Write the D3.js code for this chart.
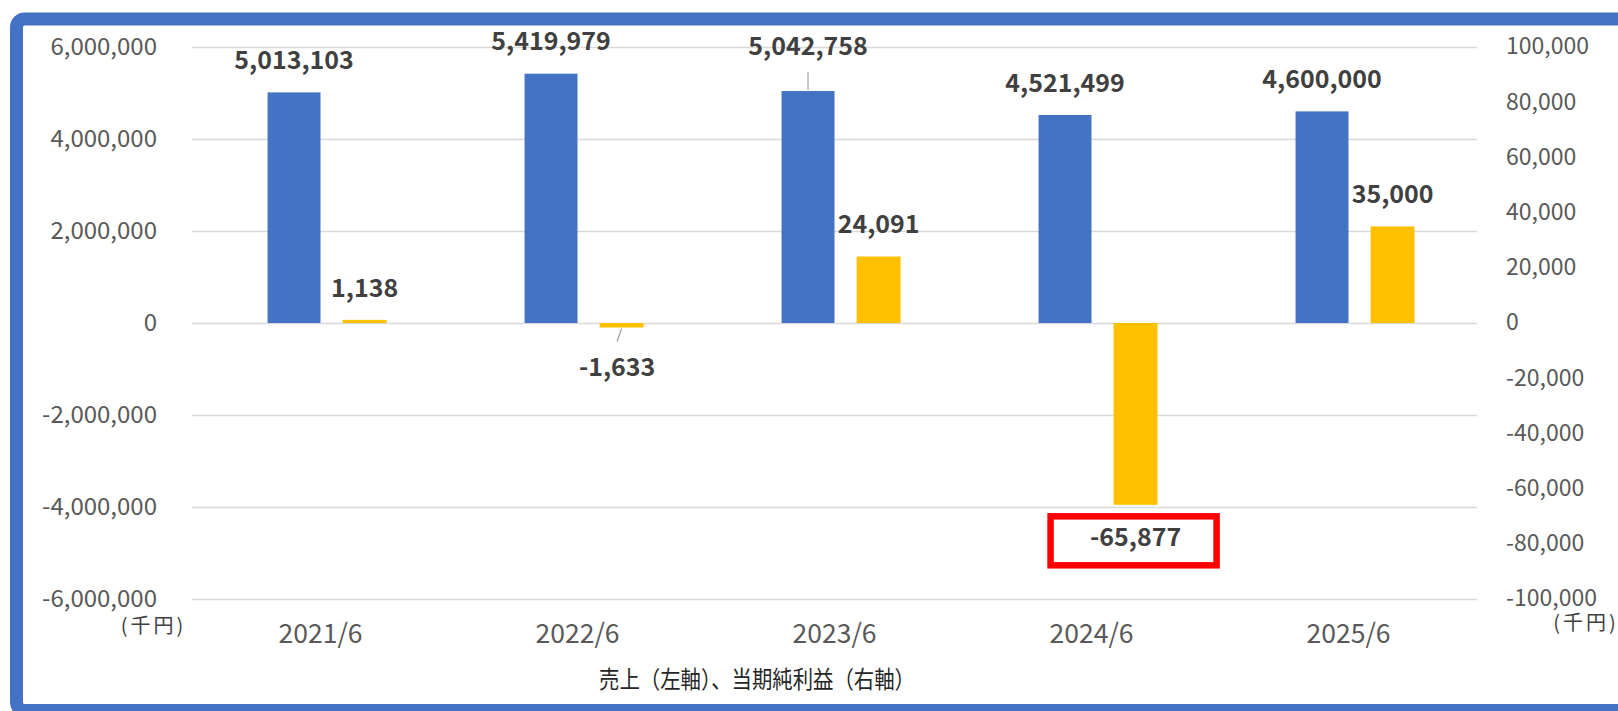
<!DOCTYPE html>
<html>
<head>
<meta charset="utf-8">
<script src="https://cdn.jsdelivr.net/npm/d3@7"></script>
<style>
  body { margin: 0; background: #fff; }
  text { font-family: "Noto Sans CJK JP", "Noto Sans", sans-serif; }
</style>
</head>
<body>
<div id="chart"></div>
<script>
const categories = ['2021/6', '2022/6', '2023/6', '2024/6', '2025/6']
const sales = [5013103, 5419979, 5042758, 4521499, 4600000]
const netIncome = [1138, -1633, 24091, -65877, 35000]
const leftTicks = [6000000, 4000000, 2000000, 0, -2000000, -4000000, -6000000]
const rightTicks = [100000, 80000, 60000, 40000, 20000, 0, -20000, -40000, -60000, -80000, -100000]
const unitLabel = '(千円)'
const titleText = '売上（左軸）、当期純利益（右軸）'

const width = 1618
const height = 711
const plot = {left: 192, right: 1477, top: 47, bottom: 599}

// hand nudges for the labels that were dragged off the bars
const labelNudge = {
    sales: {2: {dy: -13, leader: true}},
    income: {1: {dx: -4.5, dy: 8, leader: true}, 3: {box: true}}
}

const locale = d3.formatLocale({decimal: '.', thousands: ',', grouping: [3], currency: ['', ''], minus: '-'})
const fmt = locale.format(',')

const svg = d3.select('#chart')
    .append('svg')
    .attr('width', width)
    .attr('height', height)

const x = d3.scaleBand()
    .domain(categories)
    .range([plot.left, plot.right])
    .padding(0)

const yLeft = d3.scaleLinear()
    .domain([-6000000, 6000000])
    .range([plot.bottom, plot.top])

const yRight = d3.scaleLinear()
    .domain([-100000, 100000])
    .range([plot.bottom, plot.top])

const bw = x.bandwidth()
const salesW = bw * 0.206
const incomeW = bw * 0.171
const gap = bw * 0.086
const mid = c => x(c) + bw / 2

// gridlines
svg.append('g')
    .attr('transform', `translate(${plot.left},0)`)
    .call(d3.axisLeft(yLeft).tickValues(leftTicks).tickSize(-(plot.right - plot.left)).tickFormat(''))
    .call(g => g.select('.domain').remove())
    .call(g => g.selectAll('line').attr('stroke', '#d9d9d9').attr('stroke-width', 1.5))

// left axis
svg.append('g')
    .attr('transform', 'translate(157,0)')
    .call(d3.axisLeft(yLeft).tickValues(leftTicks).tickSize(0).tickPadding(0).tickFormat(fmt))
    .call(g => g.select('.domain').remove())
    .call(g => g.selectAll('text')
        .attr('fill', '#595959')
        .style('font-size', '24px')
        .attr('dy', '0.3em'))

// right axis
svg.append('g')
    .attr('transform', 'translate(1506,0)')
    .call(d3.axisRight(yRight).tickValues(rightTicks).tickSize(0).tickPadding(0).tickFormat(fmt))
    .call(g => g.select('.domain').remove())
    .call(g => g.selectAll('text')
        .attr('fill', '#595959')
        .style('font-size', '23px')
        .attr('dy', '0.3em'))

// category axis
svg.append('g')
    .attr('transform', `translate(0,${plot.bottom})`)
    .call(d3.axisBottom(x).tickSize(0).tickPadding(0))
    .call(g => g.select('.domain').remove())
    .call(g => g.selectAll('text')
        .attr('fill', '#595959')
        .attr('y', 35)
        .attr('dy', '0.35em')
        .attr('textLength', 84)
        .attr('lengthAdjust', 'spacingAndGlyphs')
        .style('font-size', '27px'))

// bars
svg.selectAll('rect.sales')
    .data(sales)
    .enter()
    .append('rect')
    .attr('class', 'sales')
    .attr('x', (d, i) => mid(categories[i]) - salesW)
    .attr('y', d => yLeft(Math.max(d, 0)))
    .attr('width', salesW)
    .attr('height', d => Math.abs(yLeft(d) - yLeft(0)))
    .attr('fill', '#4472c4')

svg.selectAll('rect.income')
    .data(netIncome)
    .enter()
    .append('rect')
    .attr('class', 'income')
    .attr('x', (d, i) => mid(categories[i]) + gap)
    .attr('y', d => yRight(Math.max(d, 0)))
    .attr('width', incomeW)
    .attr('height', d => Math.abs(yRight(d) - yRight(0)))
    .attr('fill', '#ffc000')

// data labels
const labelGap = 32
const drawLabels = function(values, scale, cx, key) {
    values.forEach(function(d, i) {
        const n = labelNudge[key][i] || {}
        const end = scale(d)
        const dir = d >= 0 ? -1 : 1
        const lx = cx(i) + (n.dx || 0)
        const ly = end + dir * labelGap + (n.dy || 0)
        if (n.leader) {
            svg.append('line')
                .attr('x1', cx(i))
                .attr('y1', end + dir * 1)
                .attr('x2', lx)
                .attr('y2', ly - dir * 26)
                .attr('stroke', '#a6a6a6')
                .attr('stroke-width', 1.3)
        }
        if (n.box) {
            svg.append('rect')
                .attr('x', lx - 85)
                .attr('y', ly - 20.5)
                .attr('width', 166)
                .attr('height', 49)
                .attr('fill', 'none')
                .attr('stroke', '#ff0000')
                .attr('stroke-width', 6.5)
        }
        svg.append('text')
            .attr('x', lx)
            .attr('y', ly)
            .attr('dy', '0.35em')
            .attr('text-anchor', 'middle')
            .attr('fill', '#404040')
            .style('font-size', '25px')
            .style('font-weight', 'bold')
            .text(fmt(d))
    })
}
drawLabels(sales, yLeft, i => mid(categories[i]) - salesW / 2, 'sales')
drawLabels(netIncome, yRight, i => mid(categories[i]) + gap + incomeW / 2, 'income')

// unit labels
const unit = function(cx, cy) {
    svg.append('text')
        .attr('x', cx)
        .attr('y', cy)
        .attr('dy', '0.35em')
        .attr('text-anchor', 'middle')
        .attr('fill', '#404040')
        .style('font-size', '20px')
        .style('letter-spacing', '3px')
        .text(unitLabel)
}
unit(153.5, 626)
unit(1586, 623)

// title under the axis
svg.append('text')
    .attr('x', 757)
    .attr('y', 680)
    .attr('dy', '0.35em')
    .attr('text-anchor', 'middle')
    .attr('fill', '#262626')
    .attr('textLength', 316)
    .attr('lengthAdjust', 'spacingAndGlyphs')
    .style('font-size', '24px')
    .text(titleText)

// blue frame
svg.append('rect')
    .attr('x', 16.5)
    .attr('y', 19)
    .attr('width', 1700)
    .attr('height', 691.5)
    .attr('rx', 8)
    .attr('fill', 'none')
    .attr('stroke', '#4472c4')
    .attr('stroke-width', 13)
</script>
</body>
</html>
